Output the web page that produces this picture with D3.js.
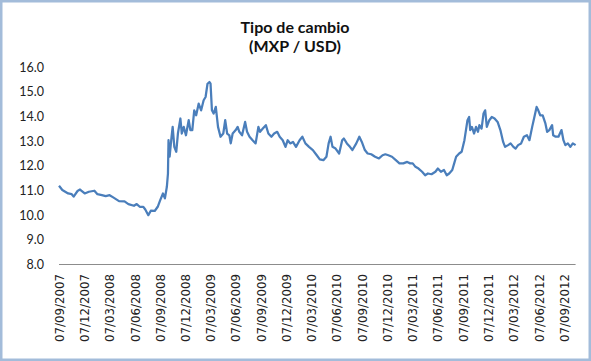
<!DOCTYPE html>
<html>
<head>
<meta charset="utf-8">
<script src="https://cdn.jsdelivr.net/npm/d3@7"></script>
<style>
  html, body { margin: 0; padding: 0; background: #fff; }
  svg { display: block; }
</style>
</head>
<body>
<svg id="chart" width="591" height="361"></svg>
<script>
const titleLines = ["Tipo de cambio", "(MXP / USD)"];
const yTicks = [8, 9, 10, 11, 12, 13, 14, 15, 16];
const xTickLabels = ["07/09/2007","07/12/2007","07/03/2008","07/06/2008","07/09/2008","07/12/2008",
  "07/03/2009","07/06/2009","07/09/2009","07/12/2009","07/03/2010","07/06/2010","07/09/2010",
  "07/12/2010","07/03/2011","07/06/2011","07/09/2011","07/12/2011","07/03/2012","07/06/2012","07/09/2012"];
const axisEnd = "2012-10-18";

const dates = [
"2007-09-07","2007-09-19","2007-10-10","2007-10-23","2007-10-30","2007-11-13","2007-11-22","2007-12-09","2007-12-24",
"2008-01-13","2008-01-24","2008-02-09","2008-02-23","2008-03-08","2008-03-21","2008-04-11","2008-05-01","2008-05-15",
"2008-06-04","2008-06-14","2008-06-25","2008-07-08","2008-07-15","2008-07-26","2008-08-04","2008-08-18","2008-08-29",
"2008-09-07","2008-09-17","2008-09-24","2008-10-01","2008-10-05","2008-10-07","2008-10-11","2008-10-18","2008-10-22",
"2008-10-28","2008-11-04","2008-11-10","2008-11-19","2008-11-24","2008-12-01","2008-12-09","2008-12-19","2008-12-25",
"2009-01-01","2009-01-08","2009-01-15","2009-01-24","2009-02-02","2009-02-11","2009-02-18","2009-02-25","2009-03-04",
"2009-03-08","2009-03-13","2009-03-19","2009-03-27","2009-04-04","2009-04-13","2009-04-23","2009-04-30","2009-05-07",
"2009-05-15","2009-05-20","2009-05-27","2009-06-07","2009-06-14","2009-06-20","2009-06-30","2009-07-11","2009-07-18",
"2009-07-27","2009-08-07","2009-08-18","2009-08-28","2009-09-03","2009-09-13","2009-09-24","2009-10-03","2009-10-14",
"2009-10-24","2009-11-04","2009-11-13","2009-11-24","2009-12-04","2009-12-12","2009-12-21","2009-12-31","2010-01-11",
"2010-01-24","2010-02-03","2010-02-14","2010-02-27","2010-03-13","2010-03-27","2010-04-07","2010-04-20","2010-05-01",
"2010-05-09","2010-05-16","2010-05-23","2010-06-03","2010-06-16","2010-06-27","2010-07-03","2010-07-14","2010-07-25",
"2010-08-03","2010-08-17","2010-08-28","2010-09-06","2010-09-17","2010-09-27","2010-10-10","2010-10-24","2010-11-07",
"2010-11-20","2010-11-30","2010-12-11","2010-12-24","2011-01-07","2011-01-20","2011-02-03","2011-02-17","2011-02-28",
"2011-03-09","2011-03-19","2011-03-30","2011-04-12","2011-04-23","2011-05-03","2011-05-16","2011-05-30","2011-06-08",
"2011-06-19","2011-06-30","2011-07-10","2011-07-19","2011-07-30","2011-08-06","2011-08-13","2011-08-24","2011-09-02",
"2011-09-12","2011-09-23","2011-09-29","2011-10-03","2011-10-09","2011-10-17","2011-10-24","2011-10-31","2011-11-05",
"2011-11-13","2011-11-20","2011-11-26","2011-12-02","2011-12-11","2011-12-20","2011-12-30","2012-01-10","2012-01-20",
"2012-01-30","2012-02-06","2012-02-17","2012-02-26","2012-03-07","2012-03-15","2012-03-24","2012-04-04","2012-04-14",
"2012-04-25","2012-05-04","2012-05-14","2012-05-22","2012-05-30","2012-06-05","2012-06-12","2012-06-21","2012-07-01",
"2012-07-07","2012-07-15","2012-07-25","2012-07-29","2012-08-07","2012-08-17","2012-08-28","2012-09-04","2012-09-11",
"2012-09-20","2012-09-29","2012-10-08","2012-10-18"];

const rates = [
11.17,11.00,10.86,10.83,10.73,10.96,11.02,10.86,10.93,
10.97,10.83,10.79,10.75,10.79,10.70,10.55,10.54,10.43,
10.36,10.43,10.32,10.32,10.21,9.98,10.16,10.15,10.32,
10.59,10.86,10.66,11.13,11.67,13.02,12.35,13.16,13.56,
12.75,12.55,13.29,13.90,13.29,13.56,13.22,13.83,13.43,
13.43,14.23,14.03,14.50,14.23,14.64,14.77,15.31,15.38,
15.31,14.23,14.10,14.37,13.56,13.16,13.29,13.83,13.29,
13.22,12.89,13.29,13.43,13.56,13.36,13.22,13.76,13.36,
13.16,13.02,12.89,13.56,13.36,13.49,13.63,13.29,13.16,
13.29,13.36,13.16,13.02,12.75,13.02,12.89,12.95,12.75,
13.02,13.16,12.89,12.75,12.62,12.41,12.24,12.21,12.35,
12.89,13.16,12.75,12.68,12.48,13.02,13.09,12.89,12.75,
12.62,12.89,13.16,12.95,12.62,12.48,12.45,12.35,12.28,
12.41,12.45,12.41,12.35,12.21,12.08,12.08,12.14,12.08,
12.08,11.94,11.87,11.74,11.60,11.67,11.64,11.74,11.87,
11.74,11.81,11.60,11.67,11.81,12.08,12.35,12.48,12.55,
13.02,13.83,13.96,13.43,13.56,13.29,13.56,13.36,13.63,
13.49,14.10,14.23,13.56,13.83,13.96,13.90,13.76,13.43,
12.95,12.75,12.82,12.89,12.75,12.68,12.82,12.89,13.16,
13.22,13.02,13.56,13.96,14.37,14.23,14.03,14.03,13.69,
13.36,13.43,13.63,13.22,13.16,13.16,13.43,13.02,12.82,
12.89,12.75,12.89,12.82];

const parse = d3.timeParse("%Y-%m-%d");
const parseLbl = d3.timeParse("%d/%m/%Y");
const data = dates.map((d, i) => ({ date: parse(d), value: rates[i] }));
const tickDates = xTickLabels.map(s => parseLbl(s));

const svg = d3.select("#chart");
const W = 591, H = 361;

svg.append("rect").attr("x", 0).attr("y", 0).attr("width", W).attr("height", H).attr("fill", "#fff");
svg.append("rect").attr("x", 1.25).attr("y", 1.25).attr("width", W - 2.5).attr("height", H - 2.5)
  .attr("fill", "none").attr("stroke", "#A3BCDA").attr("stroke-width", 2.5);

const x = d3.scaleTime().domain([tickDates[0], parse(axisEnd)]).range([59, 575.6]);
const y = d3.scaleLinear().domain([8, 16]).range([264, 66.7]);

// Title (two lines)
svg.selectAll("text.title").data(titleLines).join("text")
  .attr("class", "title").attr("text-anchor", "middle")
  .attr("x", 295).attr("y", (d, i) => 33 + i * 19)
  .attr("font-family", "Lato, 'Noto Sans', sans-serif").attr("font-weight", "bold")
  .attr("font-size", 16).attr("fill", "#111").text(d => d);

// Y axis (labels only)
const yAxis = d3.axisLeft(y).tickValues(yTicks).tickFormat(d3.format(".1f")).tickSize(0).tickPadding(0);
const gy = svg.append("g").attr("transform", "translate(44,0)").call(yAxis);
gy.select(".domain").remove();
gy.selectAll("text").attr("font-family", "Lato, 'Noto Sans', sans-serif").attr("font-size", 12.5)
  .attr("fill", "#222").attr("dy", "0.36em");

// X axis
const xAxis = d3.axisBottom(x).tickValues(tickDates).tickFormat((d, i) => xTickLabels[i]).tickSize(0).tickPadding(0);
const gx = svg.append("g").attr("transform", "translate(0,264)").call(xAxis);
gx.select(".domain").attr("stroke", "#8c8c8c").attr("stroke-width", 1).attr("d", `M${x.range()[0]},0.5H${x.range()[1]}`);
gx.selectAll("text")
  .attr("font-family", "'DejaVu Sans', Verdana, sans-serif").attr("font-size", 11.8).attr("fill", "#222")
  .attr("text-anchor", "end").attr("transform", "rotate(-90)")
  .attr("x", -10).attr("y", 0).attr("dy", "0.36em");

// Line
const line = d3.line().x(d => x(d.date)).y(d => y(d.value));
svg.append("path").datum(data).attr("d", line).attr("fill", "none")
  .attr("stroke", "#4A7EBB").attr("stroke-width", 2.25).attr("stroke-linejoin", "round");
</script>
</body>
</html>
